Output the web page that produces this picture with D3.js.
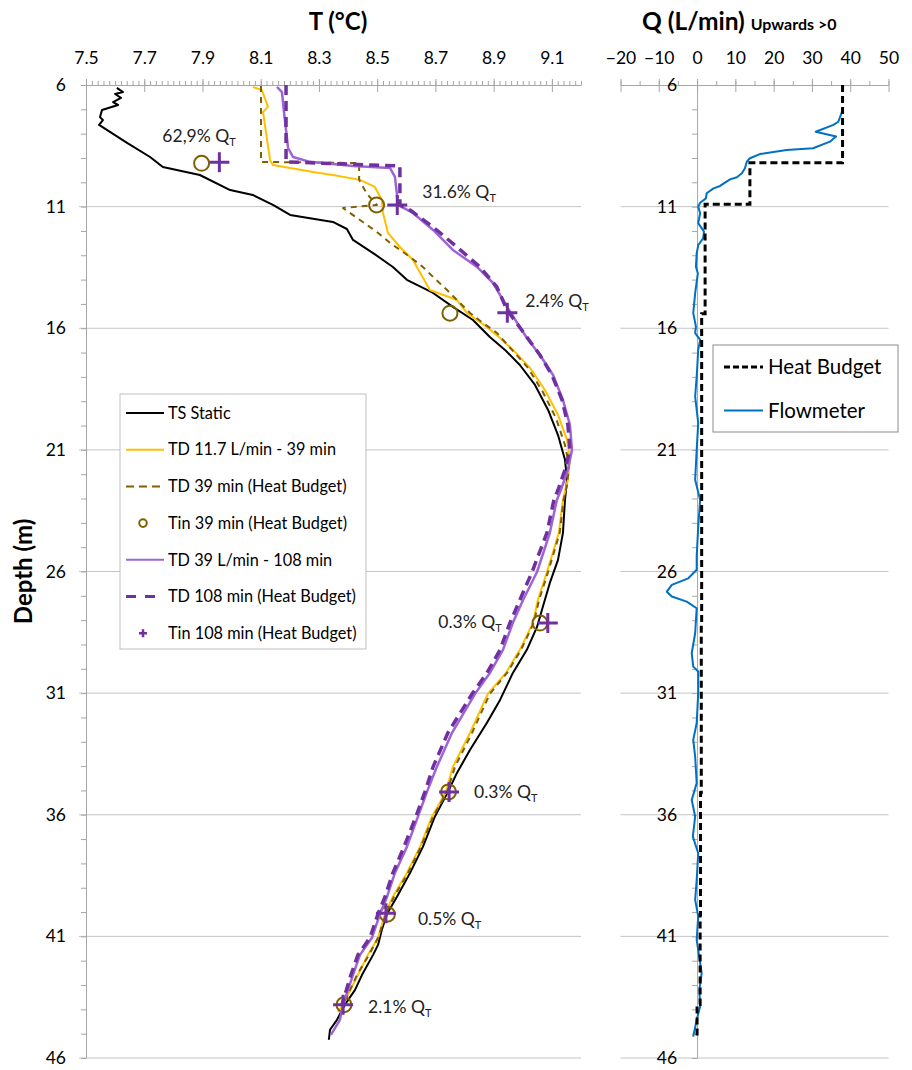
<!DOCTYPE html>
<html>
<head>
<meta charset="utf-8">
<script src="https://cdn.jsdelivr.net/npm/d3@7.9.0/dist/d3.min.js"></script>
<style>
  body { margin: 0; background: #fff; }
  svg { font-family: Lato, "Open Sans", sans-serif; }
</style>
</head>
<body>
<svg id="chart" width="912" height="1070"></svg>
<script>
// [temperature °C, depth m]
const tsStatic = [
  [7.606,6.12],[7.627,6.29],[7.600,6.37],[7.620,6.53],[7.593,6.70],[7.610,6.82],[7.555,7.03],
  [7.548,7.32],[7.558,7.44],[7.545,7.64],[7.641,8.38],[7.720,8.96],[7.764,9.37],[7.891,9.70],
  [7.995,10.32],[8.073,10.52],[8.142,10.93],[8.201,11.34],[8.348,11.63],[8.396,11.92],[8.417,12.37],
  [8.486,12.91],[8.554,13.48],[8.602,14.01],[8.692,14.55],[8.760,15.12],[8.829,15.66],[8.887,16.36],
  [8.939,16.89],[8.990,17.51],[9.042,18.33],[9.087,19.36],[9.121,20.39],[9.145,21.41],[9.152,22.23],
  [9.145,23.06],[9.138,24.41],[9.121,25.52],[9.093,26.47],[9.069,27.45],[9.049,28.28],[9.014,29.22],
  [8.966,30.17],[8.922,31.28],[8.877,32.22],[8.819,33.33],[8.774,34.28],[8.743,35.06],[8.698,36.08],
  [8.657,37.32],[8.613,38.39],[8.568,39.37],[8.534,40.07],[8.516,40.73],[8.503,41.35],[8.486,41.76],
  [8.448,42.58],[8.424,43.20],[8.389,43.81],[8.362,44.43],[8.338,44.84],[8.334,45.25]
];
const td39 = [
  [8.073,6.08],[8.104,6.21],[8.125,6.90],[8.108,7.11],[8.132,9.08],[8.142,9.29],[8.280,9.58],
  [8.348,9.70],[8.441,9.90],[8.492,10.19],[8.516,10.73],[8.520,11.26],[8.537,12.08],[8.578,12.66],
  [8.623,13.19],[8.681,14.43],[8.774,14.84],[8.808,15.37],[8.877,15.95],[8.922,16.40],[8.973,16.97],
  [9.025,17.63],[9.076,18.54],[9.121,19.56],[9.152,20.59],[9.162,21.41],[9.155,22.23],[9.138,23.06],
  [9.124,24.41],[9.083,26.02],[9.052,27.17],[9.035,28.11],[8.990,29.22],[8.942,30.17],[8.880,31.03],
  [8.819,32.63],[8.760,34.03],[8.736,35.06],[8.688,36.08],[8.647,37.32],[8.602,38.39],[8.554,39.37],
  [8.527,40.07],[8.503,41.06],[8.468,41.76],[8.434,42.58],[8.383,43.81],[8.365,44.10]
];
const td39Budget = [
  [8.101,6.04],[8.101,9.16],[8.438,9.21],[8.438,9.90],[8.465,10.48],[8.499,10.93],[8.383,11.06],
  [8.441,11.55],[8.499,12.04],[8.544,12.49],[8.613,13.07],[8.657,13.48],[8.692,13.89],[8.740,14.43],
  [8.774,14.84],[8.819,15.37],[8.863,15.78],[8.911,16.19],[8.963,16.89],[9.018,17.63],[9.069,18.62],
  [9.114,19.69],[9.145,20.80],[9.159,21.62],[9.152,22.44],[9.140,23.06],[9.127,24.41],[9.087,26.02],
  [9.056,27.17],[9.038,28.11],[8.994,29.22],[8.946,30.17],[8.887,31.03],[8.826,32.63],[8.767,34.03],
  [8.740,35.06],[8.692,36.08],[8.650,37.32],[8.606,38.39],[8.558,39.37],[8.530,40.07],[8.503,41.06],
  [8.472,41.76],[8.431,42.58],[8.383,43.81]
];
const tin39 = [[7.897,9.22],[8.498,10.93],[8.750,15.38],[9.059,28.12],[8.745,35.06],[8.535,40.09],[8.386,43.81]];
const td108 = [
  [8.156,6.08],[8.173,6.29],[8.180,7.11],[8.194,8.59],[8.211,8.96],[8.269,9.16],[8.417,9.33],
  [8.544,9.41],[8.561,9.78],[8.568,10.52],[8.571,10.93],[8.623,11.26],[8.692,11.96],[8.760,12.78],
  [8.843,13.48],[8.898,14.14],[8.946,15.12],[8.990,15.95],[9.014,16.40],[9.059,17.10],[9.104,17.92],
  [9.138,18.95],[9.162,19.97],[9.169,21.00],[9.155,21.82],[9.131,22.65],[9.117,23.06],[9.093,24.41],
  [9.049,26.02],[9.001,27.17],[8.966,28.11],[8.932,29.22],[8.887,30.17],[8.836,31.03],[8.757,32.63],
  [8.705,34.03],[8.671,35.06],[8.640,36.08],[8.602,37.32],[8.561,38.39],[8.534,39.37],[8.510,40.07],
  [8.482,41.06],[8.441,41.76],[8.417,42.58],[8.383,43.81],[8.372,44.43],[8.341,45.05]
];
const td108Budget = [
  [8.187,6.00],[8.187,9.16],[8.578,9.33],[8.578,10.93],[8.613,11.14],[8.692,11.84],[8.774,12.66],
  [8.853,13.48],[8.911,14.30],[8.946,15.25],[9.014,16.36],[9.059,17.10],[9.100,17.92],[9.135,18.95],
  [9.155,19.97],[9.162,21.00],[9.145,21.82],[9.121,22.65],[9.107,23.06],[9.083,24.41],[9.032,26.02],
  [8.990,27.17],[8.956,28.11],[8.922,29.22],[8.877,30.17],[8.826,31.03],[8.743,32.63],[8.692,34.03],
  [8.664,35.06],[8.633,36.08],[8.592,37.32],[8.554,38.39],[8.527,39.37],[8.503,40.07],[8.475,41.06],
  [8.434,41.76],[8.410,42.58],[8.379,43.81]
];
const tin108 = [[7.958,9.18],[8.569,10.93],[8.947,15.36],[9.086,28.12],[8.747,35.06],[8.530,40.05],[8.383,43.81]];
const shareLabels = ['62,9%', '31.6%', '2.4%', '0.3%', '0.3%', '0.5%', '2.1%'];

// [Q L/min, depth m]
const budgetDepths = [6, 9.2, 10.9, 15.4, 28.1, 35.1, 40.1, 43.8, 45.1];
const budgetQ = [38.0, 13.8, 2.1, 1.2, 1.1, 0.9, 0.8, 0, 0];
const flowmeter = [
  [38.0,7.03],[36.9,7.51],[35.6,7.64],[31.0,7.92],[36.3,8.12],[34.7,8.33],[30.3,8.60],[23.4,8.67],
  [16.4,8.84],[13.8,9.01],[13.0,9.15],[12.5,9.42],[11.7,9.63],[10.4,9.79],[8.6,9.88],[7.7,9.97],
  [6.0,10.15],[4.3,10.25],[2.5,10.45],[2.3,10.66],[0.8,10.84],[0.3,11.00],[0.8,11.27],[0.3,11.68],
  [1.8,12.03],[1.6,12.30],[0.3,12.58],[-0.1,12.92],[-0.3,13.47],[0.2,13.74],[-0.5,14.56],[-1.0,15.38],
  [-0.3,15.93],[-0.5,16.20],[0.8,16.48],[0.3,16.89],[-0.1,17.99],[-0.5,18.81],[0.3,19.90],[-0.1,21.00],
  [-0.5,22.23],[0.8,23.06],[0.3,24.15],[-0.1,25.39],[-0.1,25.93],[-2.3,26.28],[-6.6,26.55],[-7.9,26.83],
  [-6.6,27.03],[-2.7,27.24],[-0.1,27.51],[-0.5,28.54],[-1.4,29.36],[-1.0,29.91],[0.3,30.11],[0.3,31.00],
  [-0.1,32.23],[-1.0,32.92],[-0.5,33.61],[-0.1,34.70],[-1.4,35.39],[-0.5,36.07],[-1.1,36.90],[0.3,37.58],
  [-0.1,38.68],[-0.5,39.50],[0.3,40.18],[-0.1,41.14],[1.2,42.51],[0.6,43.20],[0.8,43.88],[-0.1,44.43],
  [-1.0,45.12]
];

const depthTicks = [6, 11, 16, 21, 26, 31, 36, 41, 46];
const tTicks = [7.5, 7.7, 7.9, 8.1, 8.3, 8.5, 8.7, 8.9, 9.1];
const qTicks = [-20, -10, 0, 10, 20, 30, 40, 50];
const leftLegend = ['TS Static', 'TD 11.7 L/min - 39 min', 'TD 39 min (Heat Budget)', 'Tin 39 min (Heat Budget)',
  'TD 39 L/min - 108 min', 'TD 108 min (Heat Budget)', 'Tin 108 min (Heat Budget)'];
const rightLegend = ['Heat Budget', 'Flowmeter'];

const svg = d3.select('#chart');
const grid = '#c4c4c4';
const axisCol = '#a6a6a6';

const y = d3.scaleLinear().domain([6, 46]).range([85, 1058]);
const xT = d3.scaleLinear().domain([7.5, 9.2]).range([86, 581]);
const xQ = d3.scaleLinear().domain([-20, 50]).range([620.5, 888.5]);

// gridlines
svg.append('g').selectAll('line').data(depthTicks.slice(1)).join('line')
  .attr('x1', 79).attr('x2', xT.range()[1])
  .attr('y1', d => y(d)).attr('y2', d => y(d))
  .attr('stroke', grid);
svg.append('g').selectAll('line').data(depthTicks.slice(1)).join('line')
  .attr('x1', xQ.range()[0]).attr('x2', xQ.range()[1])
  .attr('y1', d => y(d)).attr('y2', d => y(d))
  .attr('stroke', grid);

function styleAxis(g) {
  g.selectAll('line, path').attr('stroke', axisCol);
  g.selectAll('text').attr('fill', '#000').attr('font-size', 17.5).attr('font-family', 'Lato, sans-serif');
}

function topAxis(scale, major, minor, fmt) {
  const g = svg.append('g').attr('transform', `translate(0,${y(6)})`);
  g.append('g').call(d3.axisTop(scale).tickValues(minor).tickSize(4).tickFormat(''))
    .call(a => a.select('.domain').remove()).call(styleAxis);
  g.append('g').call(d3.axisBottom(scale).tickValues(major).tickSize(7).tickFormat(''))
    .call(a => a.select('.domain').remove()).call(styleAxis);
  g.append('g').call(d3.axisTop(scale).tickValues(major).tickSize(6).tickSizeOuter(0).tickPadding(15).tickFormat(fmt))
    .call(styleAxis);
}
topAxis(xT, tTicks, d3.range(7.5, 9.2001, 0.02), d3.format('.1f'));
topAxis(xQ, qTicks, d3.range(-20, 50.1, 5), d3.format('d'));

function depthAxis(x0) {
  const g = svg.append('g').attr('transform', `translate(${x0},0)`);
  g.append('g').call(d3.axisLeft(y).tickValues(d3.range(6, 47)).tickSize(5).tickFormat(''))
    .call(a => a.select('.domain').remove()).call(styleAxis);
  g.append('g').call(d3.axisLeft(y).tickValues(depthTicks).tickSize(0).tickPadding(20))
    .call(a => a.selectAll('.tick line').remove()).call(styleAxis);
}
depthAxis(xT(7.5));
depthAxis(xQ(0));

// titles
svg.append('text').attr('x', 338).attr('y', 30).attr('text-anchor', 'middle')
  .attr('font-size', 24).attr('font-weight', 'bold').text('T (°C)');
const qTitle = svg.append('text').attr('x', 642).attr('y', 30).attr('font-weight', 'bold');
qTitle.append('tspan').attr('font-size', 24.5).text('Q (L/min) ');
qTitle.append('tspan').attr('font-size', 16).text('Upwards >0');
svg.append('text').attr('transform', `translate(32,${y(26)}) rotate(-90)`).attr('text-anchor', 'middle')
  .attr('font-size', 24).attr('font-weight', 'bold').text('Depth (m)');

// left panel series
const lineT = d3.line().x(d => xT(d[0])).y(d => y(d[1]));
const styles = [
  { stroke: '#000000', width: 2 },
  { stroke: '#FFC000', width: 2 },
  { stroke: '#7F6000', width: 2, dash: '6,5' },
  { marker: 'circle', stroke: '#7F6000' },
  { stroke: '#9E63D6', width: 2.5 },
  { stroke: '#7030A0', width: 3.5, dash: '10,6' },
  { marker: 'plus', stroke: '#7030A0' }
];
const seriesData = [tsStatic, td39, td39Budget, tin39, td108, td108Budget, tin108];
const plus = 'M-10,0H10M0,-10V10';

seriesData.forEach((data, i) => {
  const s = styles[i];
  if (s.marker === 'circle') {
    svg.append('g').selectAll('circle').data(data).join('circle')
      .attr('cx', d => xT(d[0])).attr('cy', d => y(d[1])).attr('r', 7.5)
      .attr('fill', 'none').attr('stroke', s.stroke).attr('stroke-width', 2);
  } else if (s.marker === 'plus') {
    svg.append('g').selectAll('path').data(data).join('path')
      .attr('transform', d => `translate(${xT(d[0])},${y(d[1])})`)
      .attr('d', plus).attr('stroke', s.stroke).attr('stroke-width', 3);
  } else {
    svg.append('path').datum(data).attr('d', lineT).attr('fill', 'none')
      .attr('stroke', s.stroke).attr('stroke-width', s.width)
      .attr('stroke-dasharray', s.dash || null).attr('stroke-linejoin', 'round');
  }
});

// share labels next to the Tin 108 markers
const labelOffsets = [[-57, -20, 'start'], [25, -7, 'start'], [18, -6, 'start'], [-46, 5, 'end'],
  [25, 6, 'start'], [32, 12, 'start'], [25, 8, 'start']];
shareLabels.forEach((lab, i) => {
  const [dx, dy, anchor] = labelOffsets[i];
  const t = svg.append('text')
    .attr('x', xT(tin108[i][0]) + dx).attr('y', y(tin108[i][1]) + dy)
    .attr('text-anchor', anchor).attr('font-size', 17.5).attr('fill', '#222');
  t.append('tspan').text(lab + ' Q');
  t.append('tspan').attr('font-size', 11).attr('dy', 4).text('T');
});

// left legend
const lg = svg.append('g').attr('transform', 'translate(120,394)');
lg.append('rect').attr('width', 246).attr('height', 255).attr('fill', '#fff').attr('stroke', '#bfbfbf');
leftLegend.forEach((lab, i) => {
  const s = styles[i];
  const cy = 19 + i * 36.7;
  if (s.marker === 'circle') {
    lg.append('circle').attr('cx', 23).attr('cy', cy).attr('r', 3.8).attr('fill', 'none')
      .attr('stroke', s.stroke).attr('stroke-width', 2);
  } else if (s.marker === 'plus') {
    lg.append('path').attr('transform', `translate(23,${cy})`).attr('d', 'M-4,0H4M0,-4V4')
      .attr('stroke', s.stroke).attr('stroke-width', 2.5);
  } else {
    lg.append('line').attr('x1', 6).attr('x2', i === 5 ? 36 : 44).attr('y1', cy).attr('y2', cy)
      .attr('stroke', s.stroke).attr('stroke-width', i === 5 ? 3 : 2)
      .attr('stroke-dasharray', i === 2 ? '8,5' : i === 5 ? '10,9' : null);
  }
  lg.append('text').attr('x', 48).attr('y', cy).attr('dy', '0.35em').attr('font-size', 16.3).text(lab);
});

// right panel series
const lineQ = d3.line().x(d => xQ(d[0])).y(d => y(d[1]));
svg.append('path').datum(flowmeter).attr('d', lineQ).attr('fill', 'none')
  .attr('stroke', '#0070C0').attr('stroke-width', 2).attr('stroke-linejoin', 'round');
const budgetLine = d3.line().curve(d3.curveStepBefore).x(d => xQ(d[0])).y(d => y(d[1]));
svg.append('path').datum(budgetQ.map((q, i) => [q, budgetDepths[i]])).attr('d', budgetLine)
  .attr('fill', 'none').attr('stroke', '#000').attr('stroke-width', 3).attr('stroke-dasharray', '7,4');

// right legend
const rg = svg.append('g').attr('transform', 'translate(713,345)');
rg.append('rect').attr('width', 185).attr('height', 87).attr('fill', '#fff').attr('stroke', '#8c8c8c');
rightLegend.forEach((lab, i) => {
  const cy = 22 + i * 43.5;
  rg.append('line').attr('x1', 11).attr('x2', 50).attr('y1', cy).attr('y2', cy)
    .attr('stroke', i === 0 ? '#000' : '#0070C0').attr('stroke-width', i === 0 ? 3 : 2)
    .attr('stroke-dasharray', i === 0 ? '6,3' : null);
  rg.append('text').attr('x', 55).attr('y', cy).attr('dy', '0.35em').attr('font-size', 20.5).text(lab);
});
</script>
</body>
</html>
